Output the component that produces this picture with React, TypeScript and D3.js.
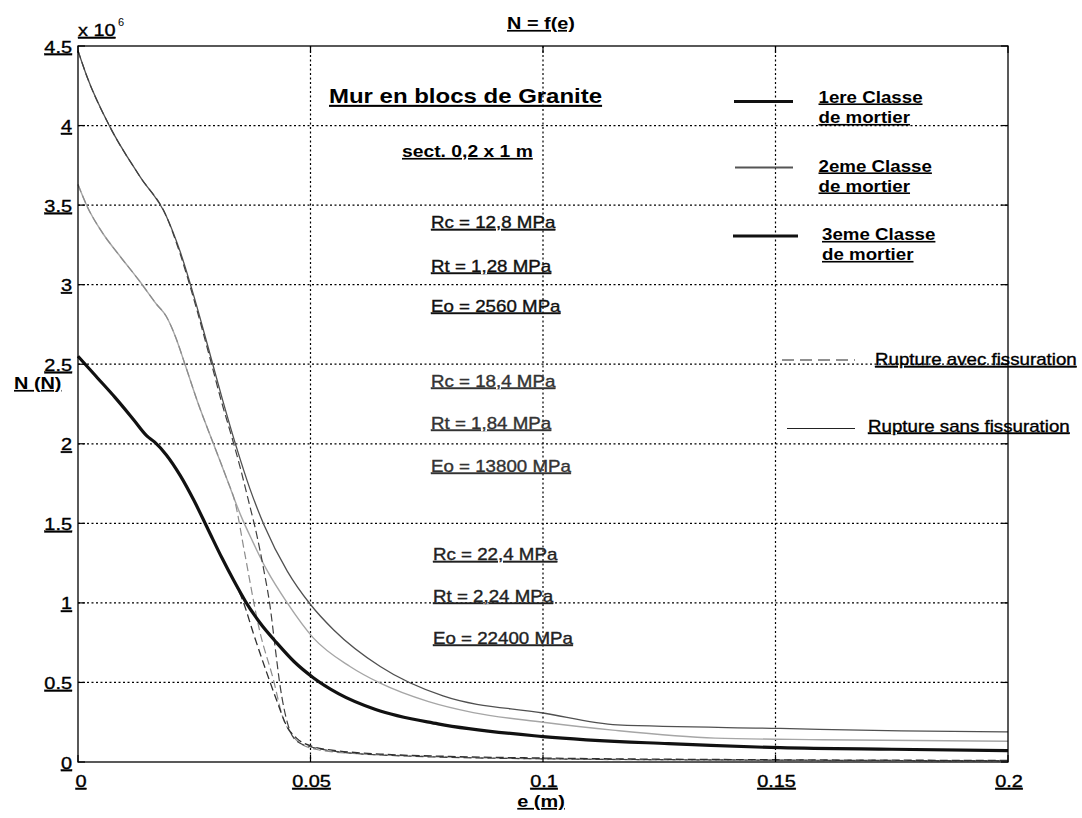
import React from "react";
import * as d3 from "d3";

// axis ticks
const xTicks = [0, 0.05, 0.1, 0.15, 0.2];
const xTickLabels = ["0", "0.05", "0.1", "0.15", "0.2"];
const yTicks = [0, 0.5, 1, 1.5, 2, 2.5, 3, 3.5, 4, 4.5];
const yTickLabels = ["0", "0.5", "1", "1.5", "2", "2.5", "3", "3.5", "4", "4.5"];

// e (m) / N (x 10^6 N)
// 1ere classe de mortier
const c1SansE = [0, 0.004, 0.008, 0.012, 0.0148, 0.0165, 0.019, 0.022, 0.025, 0.028, 0.031, 0.0335, 0.036, 0.039, 0.0427, 0.0465, 0.0506, 0.056, 0.064, 0.0774, 0.1, 0.127, 0.151, 0.175, 0.2];
const c1SansN = [2.55, 2.42, 2.29, 2.15, 2.05, 2.01, 1.93, 1.8, 1.64, 1.46, 1.28, 1.14, 1.01, 0.88, 0.75, 0.63, 0.53, 0.43, 0.33, 0.24, 0.16, 0.115, 0.09, 0.08, 0.072];
const c1AvecE = [0, 0.004, 0.008, 0.012, 0.0148, 0.0165, 0.019, 0.022, 0.025, 0.028, 0.031, 0.0335, 0.0355, 0.0377, 0.0406, 0.0427, 0.0449, 0.047, 0.0506, 0.056, 0.065, 0.08, 0.1, 0.15, 0.2];
const c1AvecN = [2.55, 2.42, 2.29, 2.15, 2.05, 2.01, 1.93, 1.8, 1.64, 1.46, 1.28, 1.14, 1.01, 0.81, 0.56, 0.39, 0.225, 0.15, 0.096, 0.07, 0.05, 0.035, 0.025, 0.014, 0.01];

// 2eme classe de mortier
const c2SansE = [0, 0.002, 0.0054, 0.009, 0.0133, 0.0168, 0.019, 0.021, 0.023, 0.026, 0.029, 0.032, 0.035, 0.0375, 0.0406, 0.045, 0.0506, 0.0585, 0.065, 0.0754, 0.085, 0.1, 0.115, 0.137, 0.16, 0.2];
const c2SansN = [3.63, 3.49, 3.32, 3.18, 3.02, 2.88, 2.8, 2.67, 2.5, 2.24, 2.01, 1.78, 1.55, 1.39, 1.207, 1.0, 0.78, 0.6, 0.495, 0.379, 0.31, 0.25, 0.2, 0.15, 0.14, 0.13];
const c2AvecE = [0, 0.002, 0.0054, 0.009, 0.0133, 0.0168, 0.019, 0.021, 0.023, 0.026, 0.029, 0.032, 0.0338, 0.0358, 0.0391, 0.042, 0.0441, 0.0458, 0.0478, 0.052, 0.06, 0.07, 0.1, 0.15, 0.2];
const c2AvecN = [3.63, 3.49, 3.32, 3.18, 3.02, 2.88, 2.8, 2.67, 2.5, 2.24, 2.01, 1.78, 1.63, 1.32, 0.82, 0.52, 0.275, 0.18, 0.117, 0.075, 0.052, 0.04, 0.02, 0.01, 0.007];

// 3eme classe de mortier
const c3SansE = [0, 0.0019, 0.0069, 0.0133, 0.019, 0.022, 0.025, 0.028, 0.031, 0.034, 0.037, 0.04, 0.045, 0.05, 0.055, 0.065, 0.0785, 0.1, 0.116, 0.151, 0.177, 0.2];
const c3SansN = [4.47, 4.31, 3.99, 3.68, 3.43, 3.205, 2.92, 2.605, 2.285, 1.985, 1.715, 1.49, 1.2, 0.99, 0.83, 0.6, 0.415, 0.308, 0.233, 0.211, 0.195, 0.189];
const c3AvecE = [0, 0.0019, 0.0069, 0.0133, 0.019, 0.022, 0.025, 0.028, 0.031, 0.033, 0.0348, 0.0366, 0.0385, 0.04, 0.0413, 0.0424, 0.0434, 0.0452, 0.0467, 0.0499, 0.065, 0.1, 0.15, 0.2];
const c3AvecN = [4.47, 4.31, 3.99, 3.68, 3.43, 3.19, 2.9, 2.58, 2.25, 2.05, 1.86, 1.65, 1.42, 1.2, 0.98, 0.72, 0.49, 0.23, 0.14, 0.096, 0.044, 0.02, 0.012, 0.008];

// text
const chartTitle = "N = f(e)";
const wallTitle = "Mur en blocs de Granite";
const sectionText = "sect. 0,2 x 1 m";
const mortarProps = [
  ["Rc = 12,8 MPa", "Rt = 1,28 MPa", "Eo = 2560 MPa"],
  ["Rc = 18,4 MPa", "Rt = 1,84 MPa", "Eo = 13800 MPa"],
  ["Rc = 22,4 MPa", "Rt = 2,24 MPa", "Eo = 22400 MPa"],
];
const classLabels = [
  ["1ere Classe", "de mortier"],
  ["2eme Classe", "de mortier"],
  ["3eme Classe", "de mortier"],
];
const ruptureLabels = ["Rupture avec fissuration", "Rupture sans fissuration"];

const W = 1082;
const H = 818;
const FONT = "'Liberation Sans', Arial, Helvetica, sans-serif";
const SX = 1.17; // the scanned figure is a bit wider than plain Arial

function Label({ x, y, size = 16, weight = "normal", anchor = "start", fill = "#000", children }: any) {
  return (
    <text
      transform={`translate(${x},${y}) scale(${SX},1)`}
      fontSize={size}
      fontWeight={weight}
      fontFamily={FONT}
      textAnchor={anchor}
      fill={fill}
      stroke={weight === "bold" ? "none" : fill}
      strokeWidth={0.35}
      textDecoration="underline"
    >
      {children}
    </text>
  );
}

export default function App() {
  const left = 78, right = 1008, top = 46, bottom = 762;
  const x = d3.scaleLinear().domain([0, 0.2]).range([left, right]);
  const y = d3.scaleLinear().domain([0, 4.5]).range([bottom, top]);

  const line = d3.line<[number, number]>()
    .x(d => x(d[0]))
    .y(d => y(d[1]))
    .curve(d3.curveMonotoneX);

  const pts = (e: number[], n: number[]) => e.map((v, i) => [v, n[i]] as [number, number]);

  const series = [
    { d: pts(c2SansE, c2SansN), stroke: "#a6a6a6", width: 1.4, dash: null },
    { d: pts(c2AvecE, c2AvecN), stroke: "#8c8c8c", width: 1.2, dash: "8 4" },
    { d: pts(c3SansE, c3SansN), stroke: "#505050", width: 1.3, dash: null },
    { d: pts(c3AvecE, c3AvecN), stroke: "#404040", width: 1.2, dash: "8 4" },
    { d: pts(c1AvecE, c1AvecN), stroke: "#303030", width: 1.3, dash: "8 4" },
    { d: pts(c1SansE, c1SansN), stroke: "#111", width: 3.2, dash: null },
  ];

  const tickLen = 7;
  const propRows = [[228, 271.5, 311.5], [386.5, 428.5, 471.5], [560, 601.5, 643.5]];
  const propX = [431, 431, 433];
  const propFill = ["#111", "#333", "#222"];

  return (
    <svg width={W} height={H} style={{ position: "absolute", left: 0, top: 0, background: "#fff" }}>
      <rect x={0} y={0} width={W} height={H} fill="#fff" />

      {/* grid */}
      <g stroke="#000" strokeWidth={1.2} strokeDasharray="2 2.5">
        {yTicks.slice(1, -1).map(t => (
          <line key={"gy" + t} x1={left} x2={right} y1={y(t)} y2={y(t)} />
        ))}
        {xTicks.slice(1, -1).map(t => (
          <line key={"gx" + t} x1={x(t)} x2={x(t)} y1={top} y2={bottom} />
        ))}
      </g>

      {/* curves */}
      {series.map((s, i) => (
        <path key={i} d={line(s.d) || ""} fill="none" stroke={s.stroke} strokeWidth={s.width}
          strokeDasharray={s.dash || undefined} strokeLinejoin="round" />
      ))}

      {/* frame and ticks */}
      <rect x={left} y={top} width={right - left} height={bottom - top} fill="none" stroke="#000" strokeWidth={1.3} />
      <g stroke="#000" strokeWidth={1.2}>
        {yTicks.map(t => (
          <g key={"ty" + t}>
            <line x1={left} x2={left + tickLen} y1={y(t)} y2={y(t)} />
            <line x1={right} x2={right - tickLen} y1={y(t)} y2={y(t)} />
          </g>
        ))}
        {xTicks.map(t => (
          <g key={"tx" + t}>
            <line x1={x(t)} x2={x(t)} y1={bottom} y2={bottom - tickLen} />
            <line x1={x(t)} x2={x(t)} y1={top} y2={top + tickLen} />
          </g>
        ))}
      </g>

      {/* tick labels */}
      {yTicks.map((t, i) => (
        <Label key={"ly" + t} x={72} y={y(t) + 6.5} size={17} anchor="end">{yTickLabels[i]}</Label>
      ))}
      {xTicks.map((t, i) => (
        <Label key={"lx" + t} x={x(t) + (i === 0 ? 3 : 1)} y={787} size={17} anchor="middle">{xTickLabels[i]}</Label>
      ))}
      <Label x={78} y={36} size={17}>x 10</Label>
      <text x={118} y={26} fontSize={11} fontFamily={FONT} fill="#000">6</text>

      {/* titles */}
      <Label x={541} y={29} size={17} weight="bold" anchor="middle">{chartTitle}</Label>
      <Label x={14} y={389} size={17} weight="bold">N (N)</Label>
      <Label x={541} y={807} size={17} weight="bold" anchor="middle">e (m)</Label>

      {/* annotations */}
      <Label x={329} y={103} size={20.5} weight="bold">{wallTitle}</Label>
      <Label x={402} y={157} size={16.5} weight="bold">{sectionText}</Label>
      {mortarProps.map((g, gi) =>
        g.map((txt, ti) => (
          <Label key={gi + "-" + ti} x={propX[gi]} y={propRows[gi][ti]} size={16} fill={propFill[gi]}>{txt}</Label>
        ))
      )}

      {/* legend */}
      <line x1={734} x2={793} y1={101.5} y2={101.5} stroke="#111" strokeWidth={3.2} />
      <line x1={735} x2={793} y1={167.5} y2={167.5} stroke="#555" strokeWidth={1.8} />
      <line x1={733} x2={798} y1={236} y2={236} stroke="#111" strokeWidth={3.2} />
      {classLabels.map((l, i) => (
        <g key={"cl" + i}>
          <Label x={i === 2 ? 822 : 818.5} y={[102.5, 171.5, 240][i]} size={16} weight="bold">{l[0]}</Label>
          <Label x={i === 2 ? 822 : 818.5} y={[123, 191.5, 260][i]} size={16} weight="bold">{l[1]}</Label>
        </g>
      ))}
      <line x1={782} x2={855} y1={360} y2={360} stroke="#222" strokeWidth={1.2} strokeDasharray="12 6" />
      <Label x={875} y={365} size={16}>{ruptureLabels[0]}</Label>
      <line x1={787} x2={855} y1={428.5} y2={428.5} stroke="#222" strokeWidth={1.2} />
      <Label x={868} y={431.5} size={16}>{ruptureLabels[1]}</Label>
    </svg>
  );
}
